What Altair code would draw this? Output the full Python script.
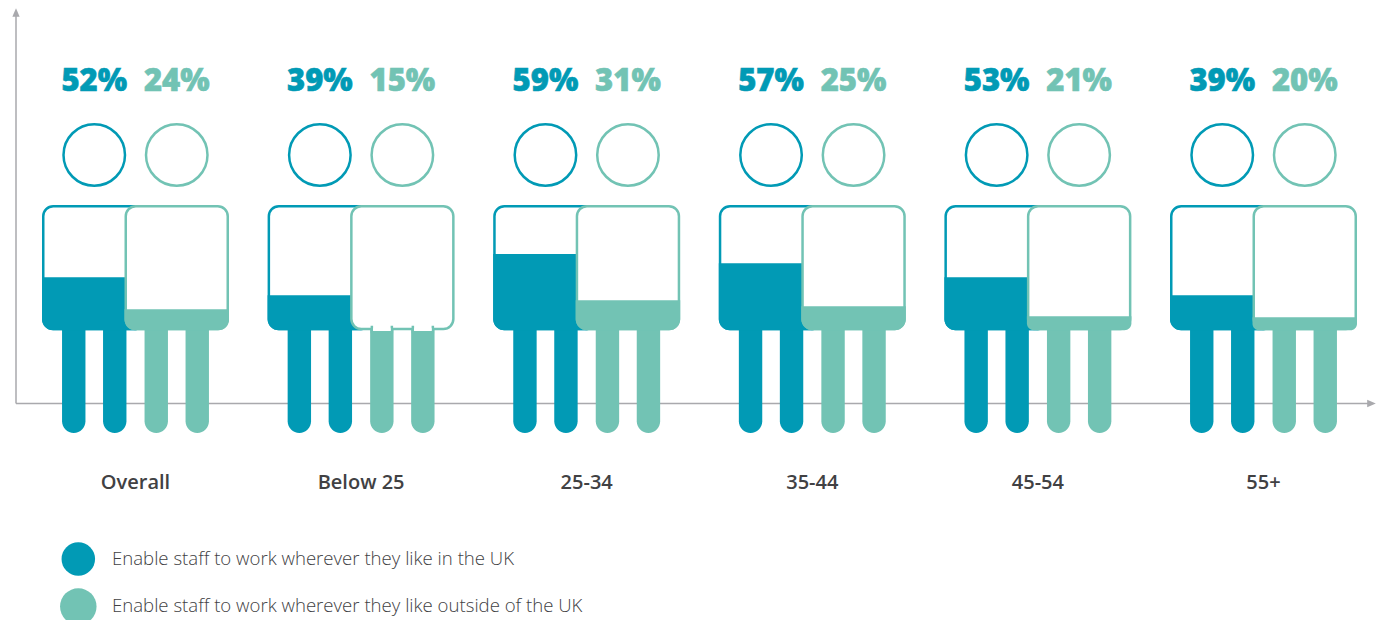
import altair as alt
import pandas as pd

categories = ["Overall", "Below 25", "25-34", "35-44", "45-54", "55+"]
uk_values = [52, 39, 59, 57, 53, 39]
abroad_values = [24, 15, 31, 25, 21, 20]
# share of the body block that is filled
uk_body_fill = [42.4, 28, 60.8, 53.6, 42.4, 28]
abroad_body_fill = [16.8, 0, 24, 19.2, 11.2, 10.4]
legend_labels = [
    "Enable staff to work wherever they like in the UK",
    "Enable staff to work wherever they like outside of the UK",
]

DARK, LIGHT = "#019ab5", "#72c3b4"
GREY, TEXT = "#a9a9ad", "#414143"
FONT = "Open Sans"

# layout, in picture pixels
X0, STEP = 135.5, 225.6
PERSON = 41.25
HALF_W = 52.25
LEG_OFF, LEG_HALF = 20.5, 11.7
TOP, BOTTOM, FOOT = 205.0, 330.3, 433.0
SW = 2.5

xs = alt.Scale(domain=[8, 1376], nice=False, zero=False)
ys = alt.Scale(domain=[620, 8], nice=False, zero=False)
X = lambda f: alt.X(f"{f}:Q", scale=xs, axis=None)
Y = lambda f: alt.Y(f"{f}:Q", scale=ys, axis=None)


def persons(values, fills, sign):
    rows = []
    for i, cat in enumerate(categories):
        c = X0 + STEP * i + sign * PERSON
        rows.append(dict(
            cat=cat, c=c, label=f"{values[i]}%",
            l=c - HALF_W, r=c + HALF_W,
            il=c - HALF_W + SW / 2, ir=c + HALF_W - SW / 2,
            top=TOP, bottom=BOTTOM, it=TOP + SW / 2, ib=BOTTOM - SW / 2,
            fill_top=BOTTOM - (BOTTOM - TOP) * fills[i] / 100,
            pct=fills[i], head=155.0, text_y=90.5,
        ))
    return pd.DataFrame(rows)


def legs(df):
    rows = []
    for _, r in df.iterrows():
        for s in (-1, 1):
            m = r["c"] + s * LEG_OFF
            rows.append(dict(
                empty=r["pct"] == 0,
                l=m - LEG_HALF, r=m + LEG_HALF, y0=320.0, y1=FOOT,
                nl=m - 10.0, nr=m + 10.0, ny0=327.0, ny1=332.0,
                wl=m - 8.75, wr=m + 8.75, wy0=325.0, wy1=331.0,
            ))
    return pd.DataFrame(rows)


def person_layers(df, color):
    leg_df = legs(df)
    layers = [
        alt.Chart(leg_df).mark_rect(
            color=color, cornerRadiusBottomLeft=LEG_HALF, cornerRadiusBottomRight=LEG_HALF
        ).encode(x=X("l"), x2="r:Q", y=Y("y0"), y2="y1:Q"),
        alt.Chart(df).mark_rect(
            fill="white", stroke=color, strokeWidth=SW, cornerRadius=10
        ).encode(x=X("il"), x2="ir:Q", y=Y("it"), y2="ib:Q"),
    ]
    filled = df[df["pct"] > 0]
    layers.append(
        alt.Chart(filled).mark_rect(
            color=color, cornerRadiusBottomLeft=11, cornerRadiusBottomRight=11
        ).encode(x=X("l"), x2="r:Q", y=Y("fill_top"), y2="bottom:Q")
    )
    empty = leg_df[leg_df["empty"]]
    if len(empty):
        layers.append(
            alt.Chart(empty).mark_rect(fill="white", stroke=color, strokeWidth=SW).encode(
                x=X("nl"), x2="nr:Q", y=Y("ny0"), y2="ny1:Q"
            )
        )
        layers.append(
            alt.Chart(empty).mark_rect(fill="white").encode(
                x=X("wl"), x2="wr:Q", y=Y("wy0"), y2="wy1:Q"
            )
        )
    layers.append(
        alt.Chart(df).mark_point(
            filled=False, fill="white", fillOpacity=1, stroke=color, strokeWidth=SW,
            shape="circle", size=3782, opacity=1,
        ).encode(x=X("c"), y=Y("head"))
    )
    layers.append(
        alt.Chart(df).mark_text(
            font=FONT, fontWeight=800, fontSize=31, color=color, stroke=color, strokeWidth=0.6,
            align="center", baseline="alphabetic"
        ).encode(x=X("c"), y=Y("text_y"), text="label:N")
    )
    return layers


uk = persons(uk_values, uk_body_fill, -1)
abroad = persons(abroad_values, abroad_body_fill, 1)

axis_lines = pd.DataFrame({"x": [16.0, 16.0], "x2": [16.0, 1370.0], "y": [14.0, 403.5], "y2": [403.5, 403.5]})
axes = alt.Chart(axis_lines).mark_rule(color=GREY, strokeWidth=1.5).encode(
    x=X("x"), x2="x2:Q", y=Y("y"), y2="y2:Q"
)
arrow_up = alt.Chart(pd.DataFrame({"x": [16.0], "y": [12.5]})).mark_point(
    shape="M0,-1L0.85,1L-0.85,1Z", filled=True, color=GREY, size=74, opacity=1
).encode(x=X("x"), y=Y("y"))
arrow_right = alt.Chart(pd.DataFrame({"x": [1371.5], "y": [403.5]})).mark_point(
    shape="M1,0L-1,0.85L-1,-0.85Z", filled=True, color=GREY, size=74, opacity=1
).encode(x=X("x"), y=Y("y"))

cat_df = pd.DataFrame({
    "cat": categories,
    "x": [X0 + STEP * i for i in range(len(categories))],
    "y": [489.0] * len(categories),
})
cat_labels = alt.Chart(cat_df).mark_text(
    font=FONT, fontWeight=600, fontSize=20, color=TEXT, align="center", baseline="alphabetic"
).encode(x=X("x"), y=Y("y"), text="cat:N")

leg_df = pd.DataFrame({
    "label": legend_labels, "x": [78.3, 78.3], "y": [559.0, 606.5],
    "tx": [112.0, 112.0], "ty": [565.0, 612.0], "col": [DARK, LIGHT], "d": [33.5, 36.5],
})
legend_marks = alt.Chart(leg_df).mark_point(filled=True, shape="circle", opacity=1).encode(
    x=X("x"), y=Y("y"),
    color=alt.Color("col:N", scale=None),
    size=alt.Size("area:Q", scale=None),
).transform_calculate(area="datum.d * datum.d")
legend_text = alt.Chart(leg_df).mark_text(
    font=FONT, fontSize=18.6, fontWeight=300, color=TEXT, align="left", baseline="alphabetic"
).encode(x=X("tx"), y=Y("ty"), text="label:N")

chart = alt.layer(
    axes, arrow_up, arrow_right,
    *person_layers(uk, DARK),
    *person_layers(abroad, LIGHT),
    cat_labels, legend_marks, legend_text,
).properties(
    width=1368, height=612, padding=0, autosize=alt.AutoSizeParams(type="none"), background="white"
).configure_view(stroke=None)

chart.save("out.html", embed_options={"renderer": "svg", "actions": False})
